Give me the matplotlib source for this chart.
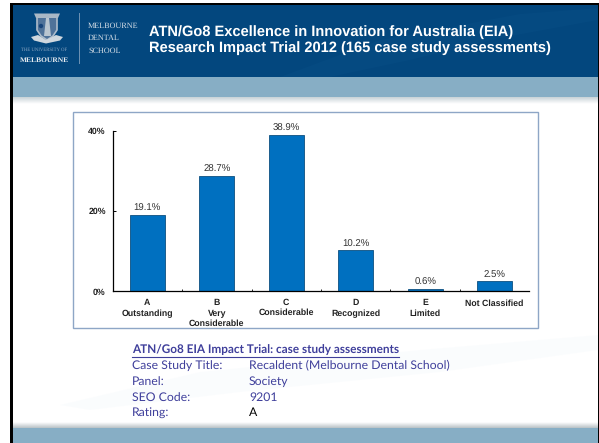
import matplotlib
matplotlib.use("Agg")
import matplotlib.pyplot as plt
import numpy as np
from matplotlib.patches import Rectangle, Polygon, PathPatch, Circle
from matplotlib.path import Path
from matplotlib.transforms import ScaledTranslation

plt.rcParams["text.hinting"] = "no_hinting"

# ---- data ----
categories = ["A\nOutstanding", "B\nVery\nConsiderable", "C\nConsiderable",
              "D\nRecognized", "E\nLimited", "Not Classified"]
shares = [19.1, 28.7, 38.9, 10.2, 0.6, 2.5]
value_labels = ["19.1%", "28.7%", "38.9%", "10.2%", "0.6%", "2.5%"]
y_ticks = [0, 20, 40]
y_tick_labels = ["0%", "20%", "40%"]
title_lines = ["ATN/Go8 Excellence in Innovation for Australia (EIA)",
               "Research Impact Trial 2012 (165 case study assessments)"]
info_heading = "ATN/Go8 EIA Impact Trial: case study assessments"
info_keys = ["Case Study Title:", "Panel:", "SEO Code:", "Rating:"]
info_values = ["Recaldent (Melbourne Dental School)", "Society", "9201", "A"]

W, H = 599, 443
fig = plt.figure(figsize=(W / 100, H / 100), dpi=100, facecolor="white")

# ---- slide background, in pixel coordinates ----
bg = fig.add_axes([0, 0, 1, 1])
bg.set_xlim(0, W); bg.set_ylim(H, 0); bg.axis("off")

NAVY = "#03477e"; BAND = "#87aec5"; INK = "#3f3f9b"

def rect(x, y, w, h, c, z=1, **k):
    bg.add_patch(Rectangle((x, y), w, h, fc=c, ec="none", zorder=z, **k))

def vgrad(y0, y1, c0, c1, z=2):
    c0 = np.array(matplotlib.colors.to_rgb(c0)); c1 = np.array(matplotlib.colors.to_rgb(c1))
    t = np.linspace(0, 1, 16)[:, None, None]
    img = c0[None, None, :] * (1 - t) + c1[None, None, :] * t
    bg.imshow(img, extent=(13, 598, y1, y0), aspect="auto", zorder=z, interpolation="bilinear")

rect(10, 3, 589, 440, "black", 0)
rect(13, 5, 585, 438, "white", 0.5)
rect(13, 5, 585, 72, NAVY, 1)
rect(13, 77, 585, 20, BAND, 1)
rect(13, 428, 585, 15, BAND, 1)
vgrad(97, 104, "#c9d3d8", "#ffffff")
vgrad(422, 428, "#ffffff", "#b9c2c6")
bg.set_xlim(0, W); bg.set_ylim(H, 0)

# faint swooshes
bg.add_patch(Polygon([(280, 77), (380, 40), (520, 14), (598, 8), (598, 20), (500, 38), (410, 60), (330, 77)],
                     fc="#0a5189", ec="none", alpha=.3, zorder=1.5))
bg.add_patch(Polygon([(60, 405), (200, 372), (420, 350), (598, 335), (598, 350), (440, 372), (240, 392), (90, 410)],
                     fc="#f8fbfd", ec="none", alpha=.6, zorder=0.8))

# ---- logo ----
crest = Path([(37, 15), (57, 15), (57, 30), (53, 36), (47, 40), (41, 36), (37, 30), (37, 15)])
bg.add_patch(PathPatch(crest, fc="#4f7299", ec="#aebccb", lw=1.2, zorder=3))
bg.add_patch(Polygon([(34, 13.5), (60, 13.5), (58, 18), (36, 18)], fc="#aab8c6", ec="none", zorder=3.1))
bg.add_patch(Polygon([(46, 18), (49, 18), (51, 36), (44, 36)], fc="#b9c5d0", ec="none", zorder=3.1))
bg.add_patch(Circle((41, 26), 2.2, fc="#17447a", ec="none", zorder=3.2))
bg.add_patch(Polygon([(31, 37), (38, 35), (46, 40), (56, 35), (63, 37), (60, 40.5), (46, 43.5), (34, 40.5)],
                     fc="#cfd7de", ec="none", zorder=3.2))
serif = "Liberation Serif"
bg.text(44, 50, "THE UNIVERSITY OF", color="#8fa9c4", fontsize=3.4, family=serif, ha="center", va="center", zorder=4)
bg.text(44.5, 60, "MELBOURNE", color="#e8edf2", fontsize=5.4, family=serif, weight="bold", ha="center", va="center", zorder=4)
bg.plot([78.7, 78.7], [13, 63], color="#6f93b4", lw=.7, zorder=4)
for y, s in zip([26, 38.5, 51], ["MELBOURNE", "DENTAL", "SCHOOL"]):
    bg.text(88, y, s, color="#d5dee7", fontsize=5.9, family=serif, ha="left", va="center", zorder=4)

# ---- title ----
for y, s in zip([32, 48.5], title_lines):
    bg.text(149, y, s, color="white", fontsize=10.55, family="Liberation Sans", weight="bold",
            ha="left", va="center", zorder=4)

# ---- chart panel ----
bg.add_patch(Rectangle((73, 111.5), 465, 216.5, fc="white", ec="#8ea6c6", lw=1, zorder=3))

ax = fig.add_axes([112.7 / W, (H - 291.3) / H, 416.6 / W, 160.6 / H], facecolor="none", zorder=5)
x = np.arange(len(categories))
bars = ax.bar(x, shares, width=0.5, color="#0070c0", edgecolor="#0d4f80", linewidth=.6)
ax.set_xlim(-0.5, 5.5); ax.set_ylim(0, 40)
ax.set_yticks(y_ticks, y_tick_labels, fontsize=6.3, family="Liberation Sans", weight="bold", color="#222222")
ax.set_xticks(x, categories, fontsize=6.3, family="Liberation Sans", weight="bold", color="#222222",
              linespacing=1.3)
ax.set_xticks(x[:-1] + .5, minor=True)
ax.tick_params(axis="x", which="major", length=0, pad=5.5)
ax.tick_params(axis="x", which="minor", direction="in", length=1.5, width=.6)
ax.tick_params(axis="y", direction="in", length=2, width=.7, pad=5)
# the round-topped "C" label lays out one pixel lower than its neighbours
c_label = ax.get_xticklabels()[2]
c_label.set_transform(c_label.get_transform() + ScaledTranslation(0, 1 / 100, fig.dpi_scale_trans))
for s in ("top", "right"):
    ax.spines[s].set_visible(False)
for s in ("left", "bottom"):
    ax.spines[s].set_linewidth(.9)
for xi, v, lab in zip(x, shares, value_labels):
    ax.annotate(lab, (xi, v), xytext=(0, 4.6), textcoords="offset points", ha="center", va="center",
                fontsize=6.9, family="Liberation Sans", color="#333333")

# ---- info block ----
sans = "Lato"
h = bg.text(132, 350, info_heading, color=INK, fontsize=8.5, family=sans, weight="bold",
            ha="left", va="center", zorder=4)
fig.canvas.draw()
bb = h.get_window_extent()
bg.plot([132, 132 + bb.width], [356.5, 356.5], color=INK, lw=.8, zorder=4)
for y, k, v in zip([366, 382, 398, 413], info_keys, info_values):
    bg.text(132, y, k, color=INK, fontsize=8.8, family=sans, ha="left", va="center", zorder=4)
    bg.text(249, y, v, color="black" if v == "A" else INK, fontsize=8.8, family=sans,
            ha="left", va="center", zorder=4)

fig.savefig("out.png", dpi=100)
